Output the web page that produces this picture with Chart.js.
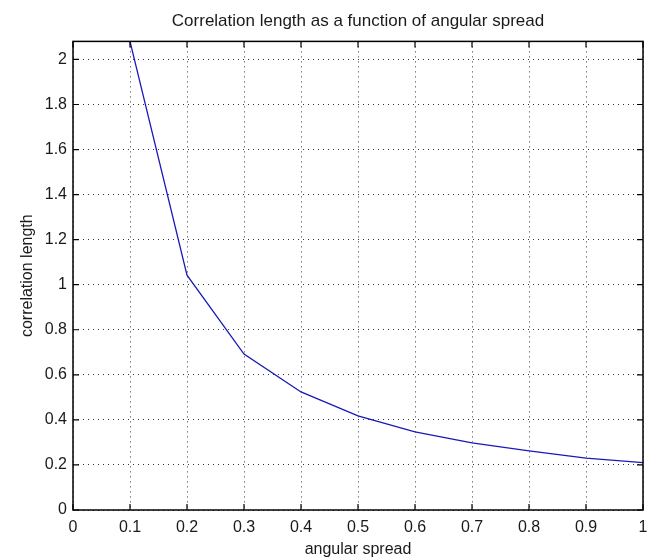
<!DOCTYPE html>
<html>
<head>
<meta charset="utf-8">
<script src="https://cdn.jsdelivr.net/npm/chart.js@4.4.1/dist/chart.umd.min.js"></script>
<style>
  body { margin: 0; background: #fff; }
  canvas { display: block; }
</style>
</head>
<body>
<canvas id="plot" width="656" height="559"></canvas>
<script>
// angular spread vs correlation length
let spread = [0.1, 0.2, 0.3, 0.4, 0.5, 0.6, 0.7, 0.8, 0.9, 1.0];
let corrLength = [2.08, 1.042, 0.692, 0.524, 0.418, 0.347, 0.298, 0.262, 0.230, 0.210];
let xTicks = [0, 0.1, 0.2, 0.3, 0.4, 0.5, 0.6, 0.7, 0.8, 0.9, 1];
let yTicks = [0, 0.2, 0.4, 0.6, 0.8, 1, 1.2, 1.4, 1.6, 1.8, 2];

let font = { family: "'Liberation Sans', Arial, sans-serif", size: 16 };
let textColor = '#1a1a1a';

// matlab style box with inward ticks on all four sides
let boxTicks = {
  id: 'boxTicks',
  afterDraw(chart) {
    let ctx = chart.ctx;
    let a = chart.chartArea;
    let xs = chart.scales.x, ys = chart.scales.y;
    let len = 6;
    ctx.save();
    ctx.strokeStyle = '#000';
    ctx.lineWidth = 1.2;
    ctx.beginPath();
    xTicks.forEach(v => {
      let px = xs.getPixelForValue(v);
      ctx.moveTo(px, a.bottom); ctx.lineTo(px, a.bottom - len);
      ctx.moveTo(px, a.top); ctx.lineTo(px, a.top + len);
    });
    yTicks.forEach(v => {
      let py = ys.getPixelForValue(v);
      ctx.moveTo(a.left, py); ctx.lineTo(a.left + len, py);
      ctx.moveTo(a.right, py); ctx.lineTo(a.right - len, py);
    });
    ctx.stroke();
    ctx.lineWidth = 1.5;
    ctx.strokeRect(a.left, a.top, a.right - a.left, a.bottom - a.top);
    ctx.restore();
  }
};

let ctx = document.getElementById('plot');
let chart = new Chart(ctx, {
  type: 'line',
  data: {
    datasets: [{
      data: spread.map((x, i) => ({ x: x, y: corrLength[i] })),
      borderColor: 'rgb(25,25,185)',
      borderWidth: 1.3,
      pointRadius: 0,
      tension: 0,
      fill: false,
    }],
  },
  options: {
    responsive: false,
    animation: false,
    layout: { padding: { left: 0, right: 13, top: 0, bottom: 0 } },
    plugins: {
      legend: { display: false },
      tooltip: { enabled: false },
      title: {
        display: true,
        fullSize: false,
        text: 'Correlation length as a function of angular spread',
        color: textColor,
        font: { family: font.family, size: 17, weight: 'normal' },
        padding: { top: 11, bottom: 10 },
      },
    },
    scales: {
      x: {
        type: 'linear',
        min: 0,
        max: 1,
        afterFit(s) { s.height = 49; },
        afterBuildTicks(s) { s.ticks = xTicks.map(v => ({ value: v })); },
        ticks: {
          color: textColor,
          font: font,
          padding: 8,
          maxRotation: 0,
          callback: v => String(+v.toFixed(1)),
        },
        grid: { color: '#333', lineWidth: 1, drawTicks: false },
        border: { display: false, dash: [1, 4] },
        title: {
          display: true,
          text: 'angular spread',
          color: textColor,
          font: font,
          padding: { top: 0, bottom: 0 },
        },
      },
      y: {
        min: 0,
        max: 2.08,
        afterFit(s) { s.width = 73; },
        afterBuildTicks(s) { s.ticks = yTicks.map(v => ({ value: v })); },
        ticks: {
          color: textColor,
          font: font,
          padding: 6,
          callback: v => String(+v.toFixed(1)),
        },
        grid: { color: '#333', lineWidth: 1, drawTicks: false },
        border: { display: false, dash: [1, 4] },
        title: {
          display: true,
          text: 'correlation length',
          color: textColor,
          font: font,
          padding: { top: 18, bottom: 0 },
        },
      },
    },
  },
  plugins: [boxTicks],
});
</script>
</body>
</html>
